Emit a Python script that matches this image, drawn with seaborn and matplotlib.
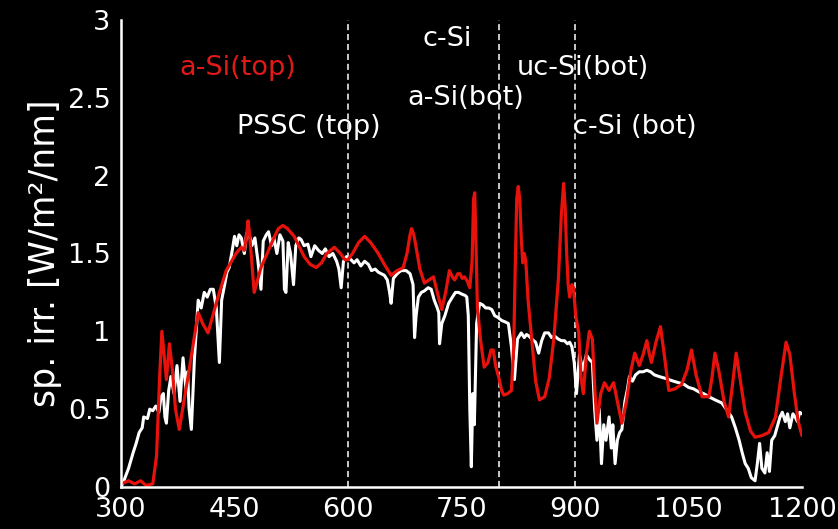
import numpy as np
import pandas as pd
import matplotlib
matplotlib.use("Agg")
import matplotlib.pyplot as plt
import seaborn as sns

# ---- data ----
sun_wl = [300, 303, 310, 316, 320, 324, 328, 330, 335, 338, 342, 346, 350, 353, 356, 358, 360, 363, 366, 370,
          374, 378, 382, 386, 388, 390, 393, 395, 397, 400, 402, 406, 410, 414, 418, 422, 426, 430, 433, 437,
          440, 443, 447, 450, 453, 456, 459, 463, 466, 469, 473, 477, 481, 485, 488, 492, 495, 499, 502, 506,
          510, 514, 516, 518, 521, 524, 528, 531, 535, 538, 542, 547, 551, 556, 561, 566, 570, 575, 580, 585,
          588, 591, 594, 598, 604, 608, 612, 617, 622, 627, 631, 636, 640, 644, 648, 652, 655, 657, 660, 665,
          670, 677, 682, 686, 688, 690, 693, 697, 701, 706, 710, 714, 718, 720, 721, 724, 728, 733, 738, 742,
          746, 750, 755, 757, 759, 761, 763, 765, 767, 770, 774, 778, 782, 786, 790, 794, 798, 803, 808, 812,
          816, 820, 824, 829, 833, 836, 839, 843, 848, 852, 856, 860, 865, 869, 873, 878, 882, 886, 890, 893,
          896, 899, 902, 906, 910, 915, 919, 923, 926, 929, 932, 935, 938, 941, 945, 948, 950, 953, 956, 959,
          962, 966, 969, 972, 976, 980, 985, 990, 995, 1000, 1005, 1011, 1018, 1024, 1030, 1037, 1044, 1050, 1057, 1064,
          1070, 1077, 1085, 1094, 1100, 1107, 1112, 1117, 1121, 1125, 1129, 1133, 1138, 1141, 1144, 1147, 1151, 1154, 1157, 1160,
          1164, 1168, 1171, 1174, 1178, 1181, 1184, 1188, 1191, 1194, 1197, 1200]
sun_irr = [0.00, 0.03, 0.12, 0.22, 0.28, 0.35, 0.38, 0.45, 0.44, 0.50, 0.49, 0.52, 0.48, 0.58, 0.60, 0.45, 0.41, 0.62, 0.71, 0.60,
           0.78, 0.55, 0.83, 0.62, 0.74, 0.50, 0.37, 0.60, 0.82, 1.05, 1.20, 1.15, 1.25, 1.22, 1.27, 1.27, 1.15, 0.80, 1.20, 1.30,
           1.38, 1.41, 1.52, 1.61, 1.55, 1.62, 1.60, 1.50, 1.63, 1.63, 1.55, 1.60, 1.45, 1.27, 1.58, 1.62, 1.64, 1.55, 1.60, 1.50,
           1.62, 1.58, 1.27, 1.25, 1.57, 1.50, 1.30, 1.55, 1.60, 1.59, 1.55, 1.56, 1.48, 1.55, 1.52, 1.50, 1.53, 1.48, 1.50, 1.45,
           1.40, 1.28, 1.45, 1.48, 1.46, 1.44, 1.46, 1.42, 1.45, 1.43, 1.39, 1.40, 1.38, 1.37, 1.36, 1.33, 1.25, 1.18, 1.34, 1.37,
           1.39, 1.39, 1.37, 1.30, 0.96, 1.10, 1.22, 1.25, 1.26, 1.28, 1.27, 1.20, 1.15, 1.12, 0.92, 1.05, 1.10, 1.18, 1.22, 1.25,
           1.25, 1.24, 1.23, 1.22, 1.10, 0.50, 0.13, 0.60, 0.40, 1.05, 1.18, 1.17, 1.15, 1.15, 1.14, 1.10, 1.09, 1.07, 1.06, 1.05,
           0.90, 0.69, 0.95, 0.99, 0.96, 0.98, 0.97, 0.95, 0.93, 0.86, 0.94, 0.99, 0.99, 0.96, 0.97, 0.95, 0.94, 0.94, 0.92, 0.93,
           0.90, 0.80, 0.60, 0.85, 0.75, 0.85, 0.82, 0.80, 0.50, 0.30, 0.50, 0.15, 0.40, 0.30, 0.45, 0.25, 0.40, 0.15, 0.30, 0.35,
           0.37, 0.55, 0.62, 0.71, 0.68, 0.72, 0.74, 0.74, 0.75, 0.74, 0.72, 0.71, 0.70, 0.69, 0.68, 0.67, 0.66, 0.64, 0.63, 0.61,
           0.60, 0.58, 0.56, 0.54, 0.50, 0.45, 0.38, 0.30, 0.22, 0.15, 0.12, 0.06, 0.04, 0.15, 0.28, 0.12, 0.09, 0.22, 0.10, 0.30,
           0.33, 0.40, 0.45, 0.48, 0.42, 0.47, 0.38, 0.47, 0.45, 0.42, 0.48, 0.47]

led_wl = [300, 310, 318, 326, 333, 342, 347, 351, 354, 357, 360, 364, 368, 372, 377, 390, 402, 408, 415, 427,
          439, 452, 459, 463, 466, 468, 470, 472, 476, 480, 485, 495, 502, 508, 514, 520, 529, 535, 542, 550,
          558, 565, 572, 582, 590, 596, 600, 606, 614, 622, 630, 640, 648, 657, 665, 673, 678, 682, 684, 687,
          690, 695, 701, 707, 713, 718, 724, 729, 734, 738, 741, 745, 748, 751, 754, 758, 761, 764, 766, 767.5,
          769, 771, 775, 780, 785, 789, 792, 795, 799, 803, 806, 811, 816, 819, 821, 823, 825, 827, 829, 831,
          833, 835, 838, 843, 848, 853, 860, 866, 872, 878, 882, 885, 887, 889, 891, 893, 896, 898, 901, 905,
          908, 911, 915, 919, 923, 926, 929, 934, 939, 945, 951, 956, 962, 968, 974, 979, 985, 990, 995, 998,
          1001, 1007, 1013, 1018, 1024, 1032, 1041, 1048, 1054, 1060, 1068, 1077, 1081, 1085, 1090, 1097, 1103, 1108, 1113, 1118,
          1125, 1132, 1138, 1147, 1156, 1165, 1172, 1179, 1184, 1190, 1195, 1200]
led_irr = [0.02, 0.04, 0.02, 0.04, 0.01, 0.02, 0.20, 0.70, 1.00, 0.85, 0.69, 0.92, 0.75, 0.50, 0.37, 0.75, 1.12, 1.05, 0.99, 1.20,
           1.39, 1.50, 1.54, 1.52, 1.62, 1.71, 1.62, 1.50, 1.25, 1.32, 1.41, 1.52, 1.60, 1.66, 1.68, 1.66, 1.61, 1.55, 1.48, 1.43,
           1.41, 1.44, 1.50, 1.54, 1.50, 1.46, 1.46, 1.50, 1.57, 1.61, 1.57, 1.50, 1.43, 1.36, 1.39, 1.41, 1.50, 1.62, 1.66, 1.62,
           1.54, 1.40, 1.31, 1.33, 1.35, 1.25, 1.14, 1.25, 1.39, 1.35, 1.33, 1.37, 1.37, 1.34, 1.35, 1.32, 1.28, 1.45, 1.85, 1.89,
           1.60, 1.16, 0.95, 0.77, 0.80, 0.88, 0.88, 0.78, 0.71, 0.62, 0.59, 0.60, 0.62, 0.90, 1.40, 1.85, 1.93, 1.85, 1.60, 1.44,
           1.50, 1.45, 1.20, 0.94, 0.68, 0.56, 0.58, 0.70, 0.95, 1.33, 1.75, 1.95, 1.80, 1.50, 1.30, 1.22, 1.30, 1.28, 1.10, 0.99,
           0.70, 0.60, 0.85, 1.00, 0.95, 0.65, 0.41, 0.60, 0.67, 0.62, 0.67, 0.55, 0.41, 0.55, 0.75, 0.86, 0.78, 0.85, 0.94, 0.86,
           0.80, 0.93, 1.03, 0.85, 0.62, 0.63, 0.66, 0.75, 0.88, 0.72, 0.58, 0.58, 0.70, 0.86, 0.75, 0.55, 0.45, 0.65, 0.86, 0.70,
           0.48, 0.36, 0.32, 0.33, 0.35, 0.45, 0.70, 0.93, 0.85, 0.60, 0.42, 0.33]

divider_wl = [600, 800, 900]
x_ticks = [300, 450, 600, 750, 900, 1050, 1200]
y_ticks = [0, 0.5, 1, 1.5, 2, 2.5, 3]
y_tick_labels = ["0", "0.5", "1", "1.5", "2", "2.5", "3"]
labels = ["a-Si(top)", "PSSC (top)", "c-Si", "a-Si(bot)", "uc-Si(bot)", "c-Si (bot)"]
label_x = [377, 453, 698, 679, 823, 897]
label_y = [2.69, 2.31, 2.88, 2.50, 2.69, 2.31]
label_colors = ["#df1a17", "white", "white", "white", "white", "white"]

# ---- style ----
sns.set_theme(style="white")
plt.rcParams["font.family"] = ["DejaVu Sans"]
FS = 19.5

fig = plt.figure(figsize=(8.38, 5.29), dpi=100, facecolor="black")
ax = fig.add_axes([0.1444, 0.0794, 0.8126, 0.8828])
ax.set_facecolor("black")

sun_df = pd.DataFrame({"wl": sun_wl, "irr": sun_irr})
led_df = pd.DataFrame({"wl": led_wl, "irr": led_irr})

sns.lineplot(data=sun_df, x="wl", y="irr", color="white", linewidth=2.2,
             estimator=None, sort=False, ax=ax)
sns.lineplot(data=led_df, x="wl", y="irr", color="#e8120c", linewidth=2.3,
             estimator=None, sort=False, ax=ax)

for xv in divider_wl:
    ax.axvline(xv, color="white", linewidth=1.1, linestyle=(0, (4, 2.5)), zorder=1)

for t, xv, yv, c in zip(labels, label_x, label_y, label_colors):
    ax.text(xv, yv, t, color=c, fontsize=FS, ha="left", va="center")

ax.set_xlim(300, 1200)
ax.set_ylim(0, 3)
ax.set_xticks(x_ticks)
ax.set_xticklabels([str(v) for v in x_ticks])
ax.set_yticks(y_ticks)
ax.set_yticklabels(y_tick_labels)

for side in ["top", "right"]:
    ax.spines[side].set_visible(False)
for side in ["left", "bottom"]:
    ax.spines[side].set_color("white")
    ax.spines[side].set_linewidth(1.8)

ax.tick_params(axis="both", direction="in", length=11.5, width=1.6, color="white",
               labelcolor="white", labelsize=FS, pad=7.5)
ax.set_xlabel("")
ax.set_ylabel("sp. irr. [W/m²/nm]", color="white", fontsize=25, labelpad=4)

fig.savefig("out.png", dpi=100, facecolor="black")
